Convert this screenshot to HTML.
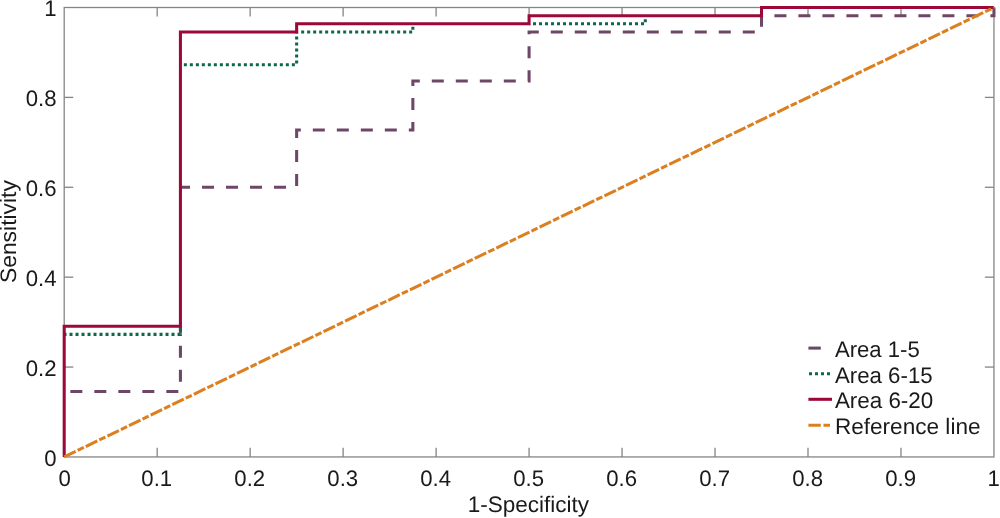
<!DOCTYPE html>
<html>
<head>
<meta charset="utf-8">
<title>ROC curve</title>
<style>
html,body{margin:0;padding:0;background:#fff;}
body{width:1000px;height:518px;overflow:hidden;font-family:"Liberation Sans",sans-serif;}
svg{display:block;will-change:transform;}
text{font-family:"Liberation Sans",sans-serif;fill:#1a1a1a;}
</style>
</head>
<body>
<svg width="1000" height="518" viewBox="0 0 1000 518" text-rendering="geometricPrecision">
<rect x="0" y="0" width="1000" height="518" fill="#ffffff"/>
<!-- axes box -->
<g fill="none" stroke="#858585" stroke-width="1.3">
<rect x="64.2" y="7.5" width="929.75" height="449.45"/>
<line x1="157.18" y1="456.95" x2="157.18" y2="447.84999999999997"/>
<line x1="157.18" y1="7.5" x2="157.18" y2="16.6"/>
<line x1="250.15" y1="456.95" x2="250.15" y2="447.84999999999997"/>
<line x1="250.15" y1="7.5" x2="250.15" y2="16.6"/>
<line x1="343.12" y1="456.95" x2="343.12" y2="447.84999999999997"/>
<line x1="343.12" y1="7.5" x2="343.12" y2="16.6"/>
<line x1="436.10" y1="456.95" x2="436.10" y2="447.84999999999997"/>
<line x1="436.10" y1="7.5" x2="436.10" y2="16.6"/>
<line x1="529.08" y1="456.95" x2="529.08" y2="447.84999999999997"/>
<line x1="529.08" y1="7.5" x2="529.08" y2="16.6"/>
<line x1="622.05" y1="456.95" x2="622.05" y2="447.84999999999997"/>
<line x1="622.05" y1="7.5" x2="622.05" y2="16.6"/>
<line x1="715.02" y1="456.95" x2="715.02" y2="447.84999999999997"/>
<line x1="715.02" y1="7.5" x2="715.02" y2="16.6"/>
<line x1="808.00" y1="456.95" x2="808.00" y2="447.84999999999997"/>
<line x1="808.00" y1="7.5" x2="808.00" y2="16.6"/>
<line x1="900.98" y1="456.95" x2="900.98" y2="447.84999999999997"/>
<line x1="900.98" y1="7.5" x2="900.98" y2="16.6"/>
<line x1="64.2" y1="367.06" x2="73.3" y2="367.06"/>
<line x1="993.95" y1="367.06" x2="984.85" y2="367.06"/>
<line x1="64.2" y1="277.17" x2="73.3" y2="277.17"/>
<line x1="993.95" y1="277.17" x2="984.85" y2="277.17"/>
<line x1="64.2" y1="187.28" x2="73.3" y2="187.28"/>
<line x1="993.95" y1="187.28" x2="984.85" y2="187.28"/>
<line x1="64.2" y1="97.39" x2="73.3" y2="97.39"/>
<line x1="993.95" y1="97.39" x2="984.85" y2="97.39"/>
</g>
<!-- tick labels -->
<g font-size="22.4">
<text transform="translate(64.60,485.8) scale(0.99,1)" text-anchor="middle">0</text>
<text transform="translate(156.78,485.8) scale(0.99,1)" text-anchor="middle">0.1</text>
<text transform="translate(249.75,485.8) scale(0.99,1)" text-anchor="middle">0.2</text>
<text transform="translate(342.73,485.8) scale(0.99,1)" text-anchor="middle">0.3</text>
<text transform="translate(435.70,485.8) scale(0.99,1)" text-anchor="middle">0.4</text>
<text transform="translate(528.68,485.8) scale(0.99,1)" text-anchor="middle">0.5</text>
<text transform="translate(621.65,485.8) scale(0.99,1)" text-anchor="middle">0.6</text>
<text transform="translate(714.62,485.8) scale(0.99,1)" text-anchor="middle">0.7</text>
<text transform="translate(807.60,485.8) scale(0.99,1)" text-anchor="middle">0.8</text>
<text transform="translate(900.58,485.8) scale(0.99,1)" text-anchor="middle">0.9</text>
<text transform="translate(993.65,485.8) scale(0.99,1)" text-anchor="middle">1</text>
<text transform="translate(56.5,465.90) scale(0.99,1)" text-anchor="end">0</text>
<text transform="translate(56.5,376.01) scale(0.99,1)" text-anchor="end">0.2</text>
<text transform="translate(56.5,286.12) scale(0.99,1)" text-anchor="end">0.4</text>
<text transform="translate(56.5,196.23) scale(0.99,1)" text-anchor="end">0.6</text>
<text transform="translate(56.5,106.34) scale(0.99,1)" text-anchor="end">0.8</text>
<text transform="translate(56.5,16.45) scale(0.99,1)" text-anchor="end">1</text>
</g>
<!-- axis titles -->
<text x="467.7" y="512.3" font-size="22.4" textLength="121.4" lengthAdjust="spacingAndGlyphs">1-Specificity</text>
<text transform="translate(16.3,283.1) rotate(-90)" font-size="22.4" textLength="103.0" lengthAdjust="spacingAndGlyphs">Sensitivity</text>
<!-- curves -->
<g fill="none" stroke-width="3.05" stroke-linejoin="miter" stroke-linecap="butt">
<polyline stroke="#6d4766" stroke-dasharray="12 12" stroke-dashoffset="17.87" points="64.20,391.58 180.42,391.58 180.42,326.20"/>
<polyline stroke="#6d4766" stroke-dasharray="12 12" stroke-dashoffset="2.39" points="180.42,187.28 296.64,187.28 296.64,130.08 412.86,130.08 412.86,81.05 529.08,81.05 529.08,32.02 761.51,32.02 761.51,15.67 993.95,15.67 993.95,7.50"/>
<polyline stroke="#0a684e" stroke-dasharray="3 3" stroke-dashoffset="0.68" points="64.20,334.37 180.42,334.37 180.42,326.20"/>
<polyline stroke="#0a684e" stroke-dasharray="3 3" stroke-dashoffset="2.57" points="180.42,64.70 296.64,64.70 296.64,32.02 412.86,32.02 412.86,23.84"/>
<polyline stroke="#0a684e" stroke-dasharray="3 3" stroke-dashoffset="2.08" points="529.08,23.84 645.29,23.84 645.29,15.67"/>
<polyline stroke="#9c0839" points="64.20,456.95 64.20,326.20 180.42,326.20 180.42,32.02 296.64,32.02 296.64,23.84 529.08,23.84 529.08,15.67 761.51,15.67 761.51,7.50 993.95,7.50"/>
<line stroke="#dc7f20" stroke-dasharray="12.75 2.25 6.75 2.25" x1="64.20" y1="456.95" x2="993.95" y2="7.50"/>
</g>
<!-- legend -->
<g fill="none" stroke-width="3.05" stroke-linecap="butt">
<line stroke="#6d4766" x1="808.4" y1="348.1" x2="820.8" y2="348.1"/>
<line stroke="#0a684e" stroke-dasharray="3 3" x1="809" y1="373.7" x2="830.5" y2="373.7"/>
<line stroke="#9c0839" x1="808.4" y1="399.3" x2="832" y2="399.3"/>
<line stroke="#dc7f20" stroke-dasharray="12.4 2.7 6.5 20" x1="808.4" y1="425.2" x2="832" y2="425.2"/>
</g>
<g font-size="22.4">
<text x="834.9" y="356.9" textLength="84.9" lengthAdjust="spacingAndGlyphs">Area 1-5</text>
<text x="834.9" y="382.6" textLength="97.8" lengthAdjust="spacingAndGlyphs">Area 6-15</text>
<text x="834.9" y="408.3" textLength="98.3" lengthAdjust="spacingAndGlyphs">Area 6-20</text>
<text x="834.9" y="434.1" textLength="145.65" lengthAdjust="spacingAndGlyphs">Reference line</text>
</g>
</svg>
</body>
</html>
